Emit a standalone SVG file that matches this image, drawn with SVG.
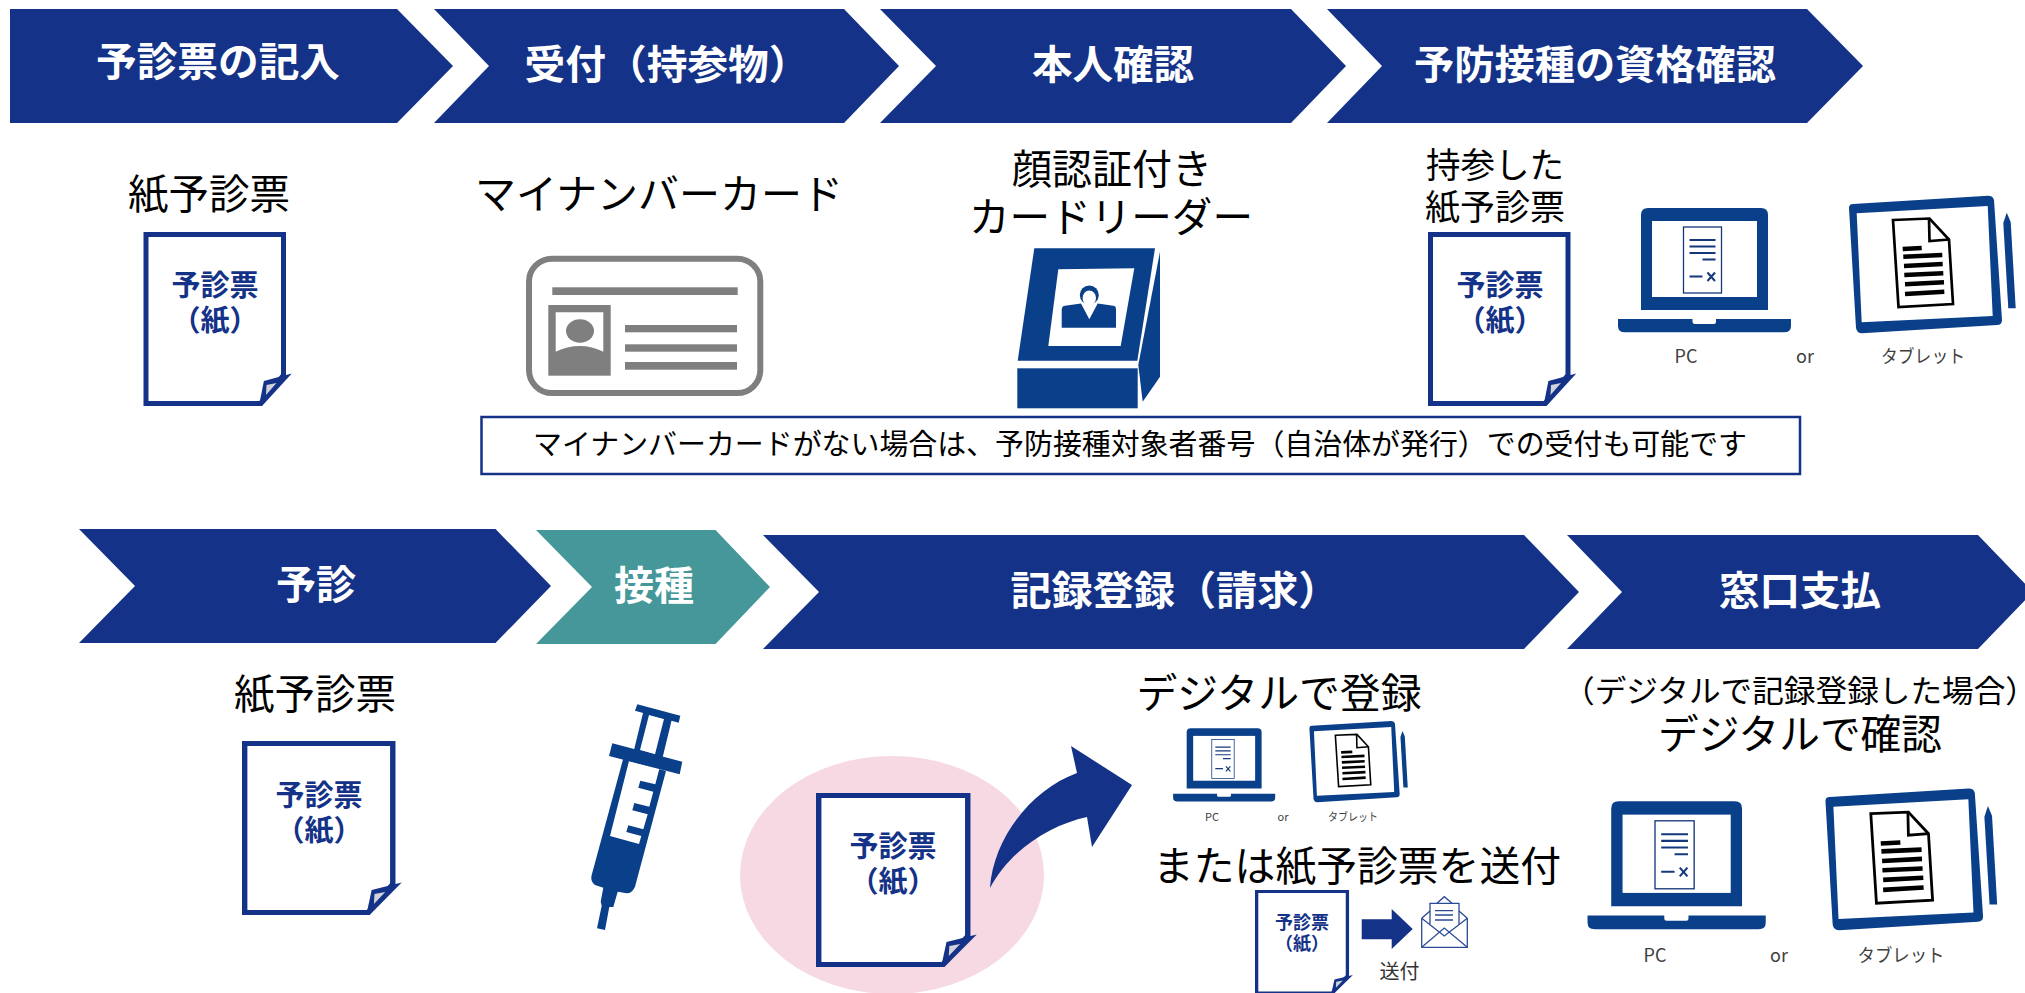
<svg xmlns="http://www.w3.org/2000/svg" width="2025" height="993" viewBox="0 0 2025 993">
<style>
text{font-family:"Noto Sans CJK JP","Noto Sans",sans-serif;text-anchor:middle}
.n{fill:#143287}
.t{fill:#45979a}
.h{fill:#fff;font-size:40px;font-weight:700}
.l{fill:#000;font-size:41px;font-weight:400}
.m{fill:#000;font-size:35px;font-weight:400}
.d{fill:#143287;font-size:29px;font-weight:700}
.s{fill:#404040;font-size:18px}
.g{fill:#7f7f7f}
.i{fill:#0a3f8a}
</style>
<defs>
<g id="doc">
<path d="M2.5,2.5H140V143L117,171.500H2.5Z" fill="#fff" stroke="#143287" stroke-width="5"/>
<path d="M148.300,141.500L120.400,149L116,171L118.500,174Z" fill="#143287"/>
<path d="M123,153L133,151L122.500,163Z" fill="#d0d3da"/>
</g>
<g id="laptop">
<path class="i" d="M1641,215Q1641,208 1648,208H1761Q1768,208 1768,215V310H1641Z"/>
<rect x="1652" y="221" width="105" height="76" fill="#fff"/>
<rect x="1683.500" y="227" width="38" height="66" fill="#fff" stroke="#14387a" stroke-width="1.300"/>
<path d="M1689.500,240H1715.500M1689.500,246.500H1715.500M1689.500,253H1715.500M1702.500,259.500H1715.500M1689.500,276.500H1702.500" stroke="#14387a" stroke-width="2" fill="none"/>
<path d="M1707.500,272.500L1715,281M1715,272.500L1707.500,281" stroke="#14387a" stroke-width="2" fill="none"/>
<path class="i" d="M1618,319H1692.500V322Q1692.500,324 1695,324H1714Q1716,324 1716,322V319H1791V326Q1791,332.300 1784,332.300H1625Q1618,332.300 1618,326Z"/>
</g>
<g id="tablet">
<path class="i" d="M1849,208Q1849,204 1853,204L1988,195.700Q1993,195.700 1994,200L2002,320Q2002,325 1997,325L1862,333.300Q1857,333.300 1856,328Z"/>
<path d="M1856.700,213.300L1987.700,206L1992.700,316L1861.700,322.300Z" fill="#fff"/>
<path d="M1893,220L1929.500,218.500L1949,239.500L1953,304L1898.500,307Z" fill="#fff" stroke="#000" stroke-width="2.700"/>
<path d="M1929,218L1929.500,241L1949.500,239.500" fill="none" stroke="#000" stroke-width="2.700"/>
<path d="M1902.700,249L1921.700,248M1903.300,256.700L1942.300,255M1904,266L1942.700,264M1904.300,275L1943.300,273.300M1905,284.300L1944,282.300M1905,294L1944.300,291.700" stroke="#000" stroke-width="4.500" fill="none"/>
<path class="i" d="M2006.700,212.700L2010.700,222L2015.700,308.300H2008.300L2003.300,223Z"/>
</g>
</defs>
<rect width="2025" height="993" fill="#fff"/>

<g id="step-yoshinhyo"><path class="n" d="M10,9H397L453,66L397,123H10Z"/><text class="h" x="218" y="76" textLength="244" lengthAdjust="spacingAndGlyphs">予診票の記入</text></g>
<g id="step-uketsuke"><path class="n" d="M434,9H844L899,66L844,123H434L489,66Z"/><text class="h" x="667" y="79" textLength="285" lengthAdjust="spacingAndGlyphs">受付（持参物）</text></g>
<g id="step-honnin"><path class="n" d="M880,9H1291L1346,66L1291,123H880L936,66Z"/><text class="h" x="1113" y="79" textLength="162" lengthAdjust="spacingAndGlyphs">本人確認</text></g>
<g id="step-shikaku"><path class="n" d="M1327,9H1807L1863,66L1807,123H1327L1382,66Z"/><text class="h" x="1595" y="79" textLength="362" lengthAdjust="spacingAndGlyphs">予防接種の資格確認</text></g>

<g id="label-kami1"><text class="l" x="209" y="209" textLength="162" lengthAdjust="spacingAndGlyphs">紙予診票</text></g>
<g id="doc1"><use href="#doc" transform="translate(143.500,232)"/><text class="d" x="215" y="296">予診票</text><text class="d" x="215" y="331">（紙）</text></g>

<g id="mynumber"><text class="l" x="659" y="209" textLength="368" lengthAdjust="spacingAndGlyphs">マイナンバーカード</text>
<rect x="529" y="258.700" width="231.300" height="134.300" rx="23" fill="#fff" stroke="#7f7f7f" stroke-width="6"/>
<rect class="g" x="552.300" y="287.300" width="185.400" height="7.700"/>
<rect class="g" x="548.300" y="305" width="62.400" height="70.700"/>
<path d="M555.700,312.300H603.300V351.700Q592,346 580,346Q567,346 555.700,351.700Z" fill="#fff"/>
<ellipse class="g" cx="580" cy="331" rx="14" ry="11.700"/>
<rect class="g" x="625" y="325" width="112" height="7.300"/>
<rect class="g" x="625" y="344.300" width="112" height="7.400"/>
<rect class="g" x="625" y="362" width="112" height="7.700"/></g>

<g id="kiosk"><text class="l" x="1112" y="184" textLength="200" lengthAdjust="spacingAndGlyphs">顔認証付き</text><text class="l" x="1111" y="232" textLength="284" lengthAdjust="spacingAndGlyphs">カードリーダー</text>
<path class="i" d="M1034.300,248.300H1155L1137.300,360.700H1017.700Z"/>
<path class="i" d="M1160,251.700V376.700L1142.700,401.700L1138.300,365Z"/>
<path d="M1058.300,269.300L1134.300,268.300L1120.700,346H1048.300Z" fill="#fff"/>
<ellipse class="i" cx="1089.300" cy="295" rx="9.500" ry="9.500"/>
<ellipse cx="1089.300" cy="298" rx="6.700" ry="7.500" fill="#fff"/>
<path class="i" d="M1061.700,327.700V309.300Q1062,306 1065,305.700L1081,303.500L1089.300,319.300L1097.700,303.500L1113.300,305.700Q1116,306 1116,309.300V327.700Z"/>
<rect class="i" x="1017.300" y="368.300" width="120.400" height="40"/></g>

<g id="note"><rect x="481.500" y="417" width="1318.500" height="57" fill="#fff" stroke="#143287" stroke-width="2.500"/><text x="1140" y="454.500" style="font-size:29px" fill="#000" textLength="1214" lengthAdjust="spacingAndGlyphs">マイナンバーカードがない場合は、予防接種対象者番号（自治体が発行）での受付も可能です</text></g>

<g id="label-jisan"><text class="m" x="1495" y="178" textLength="138" lengthAdjust="spacingAndGlyphs">持参した</text><text class="m" x="1495" y="220" textLength="140" lengthAdjust="spacingAndGlyphs">紙予診票</text></g>
<g id="doc2"><use href="#doc" transform="translate(1428,232)"/><text class="d" x="1500" y="296">予診票</text><text class="d" x="1500" y="331">（紙）</text></g>

<g id="device1"><use href="#laptop"/><use href="#tablet"/><text class="s" x="1686" y="363">PC</text><text class="s" x="1805" y="363">or</text><text class="s" x="1923" y="363" textLength="84" lengthAdjust="spacingAndGlyphs">タブレット</text></g>

<g id="step-yoshin"><path class="n" d="M79,529H495.500L551,586L495.500,643H79L135,586Z"/><text class="h" x="316" y="599">予診</text></g>
<g id="step-sesshu"><path class="t" d="M536,530H715.500L770,587L715.500,644H536L592,587Z"/><text class="h" x="654" y="600">接種</text></g>
<g id="step-kiroku"><path class="n" d="M763,535H1524L1579,592L1524,649H763L819,592Z"/><text class="h" x="1175" y="605" textLength="329" lengthAdjust="spacingAndGlyphs">記録登録（請求）</text></g>
<g id="step-madoguchi"><path class="n" d="M1567,535H1978L2033,592L1978,649H1567L1622,592Z"/><text class="h" x="1800" y="605" textLength="162" lengthAdjust="spacingAndGlyphs">窓口支払</text></g>

<g id="label-kami2"><text class="l" x="315" y="709" textLength="162" lengthAdjust="spacingAndGlyphs">紙予診票</text></g>
<g id="doc3"><use href="#doc" transform="translate(242,741) scale(1.077,1)"/><text class="d" x="319" y="806">予診票</text><text class="d" x="319" y="841">（紙）</text></g>

<g id="syringe" class="i">
<path d="M637.300,704.300L680.300,715.700L678.700,722.700L635,710.700Z"/>
<path fill-rule="evenodd" d="M643.300,711.700L671.700,720L662,760L634,750ZM649,715L664,719L655,754.300L640,750Z"/>
<path d="M612.300,743.300L682.300,761.700L679.700,774.300L609,756Z"/>
<path fill-rule="evenodd" d="M623.300,758.300L666,771L635,886.700Q632,893.300 626.700,893.300L617.700,891.700L613.300,907L609.300,907L605,930L597,928.300L601.700,905.700L600.700,901.700L603.300,887.700L595,885Q590,881 591.700,875ZM629,761L659.300,769L655.300,784.300L640.300,780.700L638.300,787.700L653.300,791.700L649.300,806.700L634.300,803L632.300,810.300L647.700,814.300L643.300,829.300L628.300,825.300L626.300,832L641.300,836L639,844L610,836Z"/>
</g>

<ellipse id="pink-ellipse" cx="892" cy="875" rx="152" ry="119" fill="#f7d9e3"/>
<g id="doc4"><use href="#doc" transform="translate(816,793) scale(1.084,1)"/><text class="d" x="893" y="857">予診票</text><text class="d" x="893" y="892">（紙）</text></g>

<g id="connectors">
<path id="curved-arrow" class="n" d="M990,888C993,840 1030,790 1077,773L1071,746L1132,785L1092,847L1087,817C1050,825 1010,850 990,888Z"/>
<path id="send-arrow" class="n" d="M1361.700,919.300H1391.700V909L1412.700,929L1391.700,949V939.300H1361.700Z"/>
</g>

<g id="digital-reg"><text class="l" x="1279" y="708" textLength="285" lengthAdjust="spacingAndGlyphs">デジタルで登録</text>
<g transform="translate(218.500,605.500) scale(.59)"><use href="#laptop"/><use href="#tablet"/></g>
<text class="s" style="font-size:11px" x="1212" y="821">PC</text><text class="s" style="font-size:11px" x="1283" y="821">or</text><text class="s" style="font-size:11px" x="1353" y="821" textLength="50" lengthAdjust="spacingAndGlyphs">タブレット</text></g>

<g id="paper-send"><text class="l" x="1357" y="881" textLength="408" lengthAdjust="spacingAndGlyphs">または紙予診票を送付</text>
<use href="#doc" transform="translate(1255,890) scale(.66,.6)"/>
<text class="d" style="font-size:18px" x="1302" y="929">予診票</text><text class="d" style="font-size:18px" x="1302" y="950">（紙）</text>
<g fill="none" stroke="#2b4a94" stroke-width="1.300">
<path d="M1421.700,918.300L1430,911M1459,911L1467.300,918.300V947.300H1421.700V918.300M1437,903.300L1444.300,896.700L1452,903.300"/>
<path d="M1430,924V903.300H1459V924"/>
<path d="M1421.700,918.300L1444.300,936L1467.300,918.300M1421.700,947.300L1444.300,928L1467.300,947.300"/>
<path d="M1435,910.700H1453M1435,915H1453M1435,920H1453"/>
</g>
<text x="1399.500" y="979" style="font-size:20px;fill:#333">送付</text></g>

<g id="digital-confirm"><text x="1800" y="702" style="font-size:31px" fill="#000" textLength="474" lengthAdjust="spacingAndGlyphs">（デジタルで記録登録した場合）</text>
<text class="l" x="1800" y="749" textLength="284" lengthAdjust="spacingAndGlyphs">デジタルで確認</text>
<g transform="translate(-79,587) scale(1.03)"><use href="#laptop"/><use href="#tablet"/></g>
<text class="s" x="1655" y="962">PC</text><text class="s" x="1779" y="962">or</text><text class="s" x="1901" y="962" textLength="87" lengthAdjust="spacingAndGlyphs">タブレット</text></g>
</svg>
